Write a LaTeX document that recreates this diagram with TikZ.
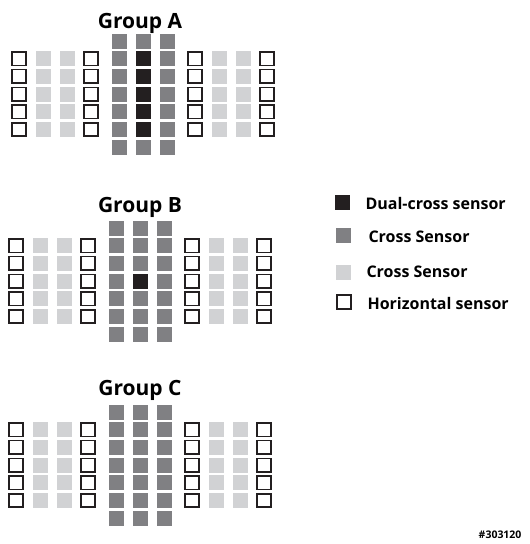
\documentclass[tikz,border=0pt]{standalone}
\usepackage{fontspec}
\setmainfont{Open Sans}
\usepackage{tikz}
\definecolor{dualgray}{HTML}{231F20}
\definecolor{crossgray}{HTML}{808083}
\definecolor{lightgray}{HTML}{D1D2D4}
\tikzset{
  sensor/.style = {rectangle, inner sep=0pt, minimum size=15pt},
  dual_sensor/.style = {sensor, fill=dualgray},% double croix
  cross_sensor/.style = {sensor, fill=crossgray},% croix
  light_sensor/.style = {sensor, fill=lightgray},% croix, gris clair
  hollow_sensor/.style = {sensor, draw=dualgray, line width=1.6pt,
    minimum size=13.5pt, fill=white},% horizontal
  group_title/.style = {anchor=base, font=\fontsize{21}{21}\selectfont\bfseries},
  legend_text/.style = {anchor=west, font=\fontsize{16}{16}\selectfont\bfseries}
}

\begin{document}
\begin{tikzpicture}[x=1pt, y=-1pt]
      \useasboundingbox (0,0) rectangle (530,544);
      % les trois groupes : nom/decalage/ligne du haut/lignes double croix
      \foreach \grp/\dx/\ty/\dlo/\dhi in {A/3/41/1/5, B/0/228/3/3, C/0/412/9/9} {
        % colonnes centrales
        \foreach \c/\x in {1/116, 2/140, 3/164} {
          \foreach \r in {0,...,6} {
            \pgfmathtruncatemacro\dk{and(\c==2, and(\r>=\dlo, \r<=\dhi))}
            \ifnum\dk=1 \def\sty{dual_sensor}\else\def\sty{cross_sensor}\fi
            \node [\sty] (\grp-m\c-\r) at (\x+\dx, \ty+\r*17.7) {};
          }
        }
        % colonnes laterales
        \foreach \c/\x/\sty in {1/16/hollow_sensor, 2/40/light_sensor,
            3/64/light_sensor, 4/88/hollow_sensor, 5/192/hollow_sensor,
            6/216/light_sensor, 7/240/light_sensor, 8/264/hollow_sensor} {
          \foreach \r in {1,...,5} {
            \node [\sty] (\grp-s\c-\r) at (\x+\dx, \ty+\r*17.7) {};
          }
        }
      }
      \node [group_title] (titleA) at (140,28) {Group A};
      \node [group_title] (titleB) at (140,212) {Group B};
      \node [group_title] (titleC) at (140,395) {Group C};
      % legende
      \node [dual_sensor] (key1) at (342,202) {};
      \node [cross_sensor] (key2) at (343,235) {};
      \node [light_sensor] (key3) at (343,272) {};
      \node [hollow_sensor] (key4) at (344,302) {};
      \node [legend_text] (txt1) at (362,203) {Dual-cross sensor};
      \node [legend_text] (txt2) at (365,237) {Cross Sensor};
      \node [legend_text] (txt3) at (363,272) {Cross Sensor};
      \node [legend_text] (txt4) at (364,303) {Horizontal sensor};
      \node [anchor=east, font=\fontsize{10.5}{10.5}\selectfont\bfseries] (ref) at (525,535) {\#303120};
    \end{tikzpicture}
\end{document}
